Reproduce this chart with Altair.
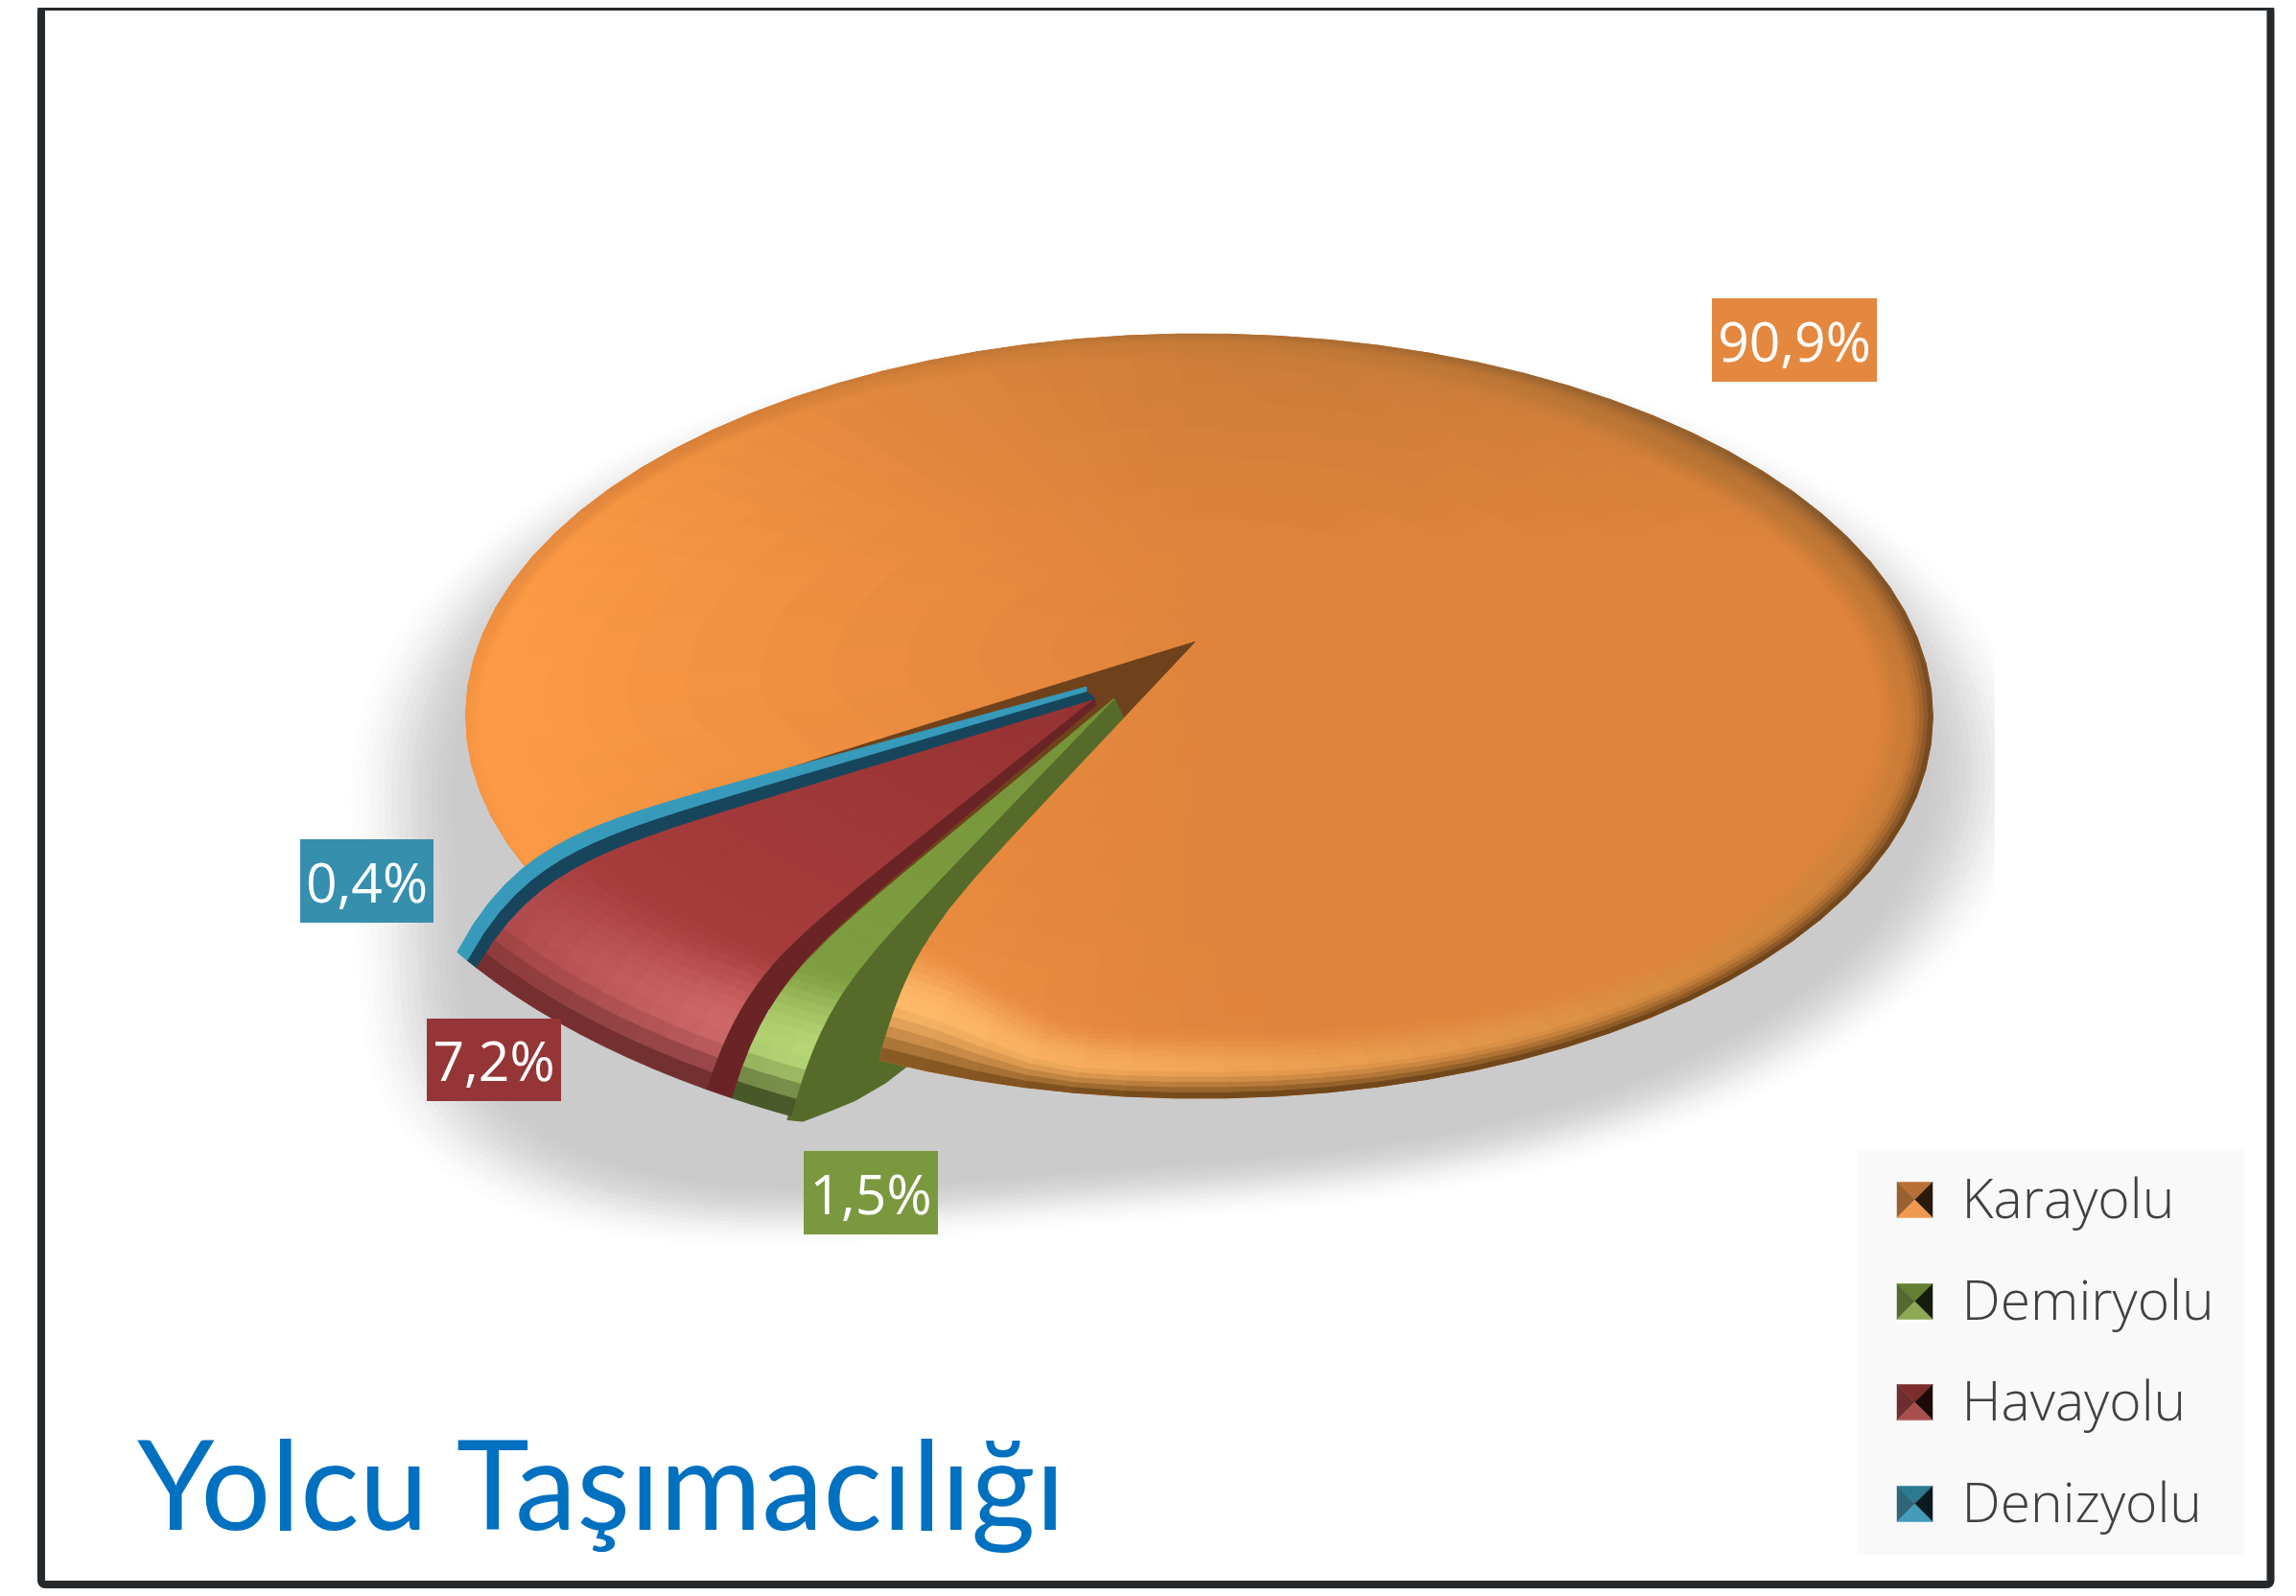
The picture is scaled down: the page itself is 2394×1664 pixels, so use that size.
import numpy as np
import pandas as pd
import altair as alt

alt.data_transformers.disable_max_rows()

# ---- chart values ----
categories = ["Karayolu", "Demiryolu", "Havayolu", "Denizyolu"]
shares = [90.9, 1.5, 7.2, 0.4]
title_text = "Yolcu Taşımacılığı"

# ---- geometry of the tilted pie (reference px = small * K) ----
K = 2394 / 1568
CX, CY, A, B = 819, 489, 501, 261
APEX = (818, 437)
EXPLODE_RHO = 1.185
START = 148.6
BOW = 56.0

cum = np.cumsum([0] + shares)
ang = START + cum * 3.6            # Karayolu starts at START; the rest follow clockwise
T_OR0, T_OR1 = ang[0], ang[1]
# the small slices are slightly stretched by perspective
warp = lambda d: float(np.interp(d % 360, [116.0, 121.4, 147.3, 148.6], [118.0, 122.7, 146.4, 148.6]))
T_G0, T_G1 = warp(ang[1]), warp(ang[2])
T_R1, T_B1 = warp(ang[3]), warp(ang[4])
T_R0 = T_G1 + 2.0
T_D1 = T_R1 + 1.1


def mix(c1, c2, f):
    c1 = np.asarray(c1, float); c2 = np.asarray(c2, float)
    return c1 + (c2 - c1) * f


def rgb(h):
    return np.array([int(h[i:i + 2], 16) for i in (1, 3, 5)], float)


def hexs(c):
    c = np.clip(np.round(c), 0, 255).astype(int)
    return "#%02x%02x%02x" % tuple(c)


def bowf(r):
    return r * (1 - r ** 10)


def gap_window(t, fade=40):
    t = t % 360
    d = max(116 - t, t - 148.6, 0)
    return float(np.cos(min(d, fade) / fade * np.pi / 2) ** 2)


def P(r, t, apex=APEX, rho=1.0, bow=None):
    th = np.radians(t)
    rx = CX + A * rho * np.cos(th)
    ry = CY + B * rho * np.sin(th)
    c = BOW * gap_window(t) if bow is None else bow
    return apex[0] + (rx - apex[0]) * r, apex[1] + (ry - apex[1]) * r - c * bowf(r)


rows = {}
_id = [0]


def poly(layer, pts, color, clampx=None):
    _id[0] += 1
    lst = rows.setdefault(layer, [])
    for i, (x, y) in enumerate(pts):
        if clampx is not None:
            x = min(x, clampx)
        lst.append(dict(id=_id[0], o=i, x=x * K, y=y * K, c=color))


def table(ts, hexes, t):
    cs = np.array([rgb(h) for h in hexes])
    return np.array([np.interp(t, ts, cs[:, i]) for i in range(3)])


def sstep(f):
    f = np.clip(f, 0, 1)
    return f * f * (3 - 2 * f)


U = list(np.linspace(0, 1, 15))


def profile(face, H, E, u, um=.6):
    if u < um:
        return mix(face, H, sstep(u / um))
    return mix(H, E, ((u - um) / (1 - um)) ** 1.6)


# ---- shadow ----
def shadow_pt(t, s):
    th = np.radians(t)
    bump = 1 + 0.29 * np.exp(-((t - 130) / 24.0) ** 2)
    return 815 + 515 * s * bump * np.cos(th), 527 + 268 * s * bump * np.sin(th)


for i, s in enumerate(np.linspace(1.12, 0.97, 18)):
    col = hexs(mix([255, 255, 255], [203, 203, 203], sstep((i + 1) / 18)))
    poly("shadow", [shadow_pt(t, s) for t in np.arange(0, 360, 3)], col, clampx=1362)

# ---- inner wall of the cut ----
rs_edge = np.linspace(0, 1, 30)
poly("brown", [P(r, 148.6) for r in rs_edge] + [P(r, 116) for r in rs_edge[::-1]], "#6f421c")

# ---- wall of the green slice, mostly hidden by the orange face ----
GA = (761, 477)
wall = [P(r, T_G0, GA, 1.196, BOW) for r in np.linspace(0, 1, 30)]
wall += [(CX + A * rh * np.cos(np.radians(t)), CY + B * rh * np.sin(np.radians(t)))
         for t, rh in [(117, 1.19), (116, 1.15), (115, 1.11), (114, 1.05), (113.5, 1.0), (113, .95)]]
wall += [(770, 495)]
poly("gwall", wall, "#566b29")


# ---- orange face ----
def face_color(x, y):
    nx = (x - 318) / 1002
    ny = (y - 228) / 522
    base = table([0, .08, .3, .5, 1], ["#fe9b48", "#f99743", "#ea8c3f", "#df843c", "#df843c"], nx)
    d = max(0, .3 - ny) / .3 * min(max(nx * 1.7, 0), 1) * .65
    base = mix(base, rgb("#bc7638"), d)
    low = max(0, (ny - .75) / .25) * max(0, 1 - nx * 1.8)
    return mix(base, rgb("#f6984c"), low)


HT = ([148.6, 180, 225, 270, 315, 360, 405, 450, 476],
      ["#fe9b48", "#f99743", "#de853c", "#c67b38", "#b87434", "#c97a36", "#d58a40", "#f2a555", "#ffba6a"])
ET = ([148.6, 180, 225, 270, 315, 360, 405, 450, 476],
      ["#f59546", "#f59546", "#d9813a", "#b07034", "#8c5c2c", "#6a4520", "#5f3a14", "#5e3b12", "#7a4c1a"])
WT = ([148.6, 180, 225, 270, 315, 360, 405, 450, 476],
      [.02, .02, .04, .08, .12, .08, .10, .16, .14])

ts = np.linspace(T_OR0, T_OR1, 83)
RL = [0, .1, .2, .3, .4, .5, .6, .7, .78, .84, .89, .93, .96, .98, 1]
for t0, t1 in zip(ts[:-1], ts[1:]):
    for a, b in zip(RL[:-1], RL[1:]):
        pts = [P(a, t0), P(b, t0), P(b, t1), P(a, t1)]
        xm = np.mean([p[0] for p in pts]); ym = np.mean([p[1] for p in pts])
        poly("orange", pts, hexs(face_color(xm, ym)))
# the rim bevel follows the true ellipse, bending only near the cut
for t0, t1 in zip(ts[:-1], ts[1:]):
    tm = (t0 + t1) / 2
    w0 = np.interp(t0, *WT); w1 = np.interp(t1, *WT); wm = np.interp(tm, *WT)
    H = table(*HT, tm); E = table(*ET, tm)
    b0 = BOW * gap_window(t0, 16); b1 = BOW * gap_window(t1, 16)
    fx, fy = P(1 - wm, tm, bow=0)
    face = face_color(fx, fy)
    for u0, u1 in zip(U[:-1], U[1:]):
        pts = [P(1 - w0 * (1 - u0), t0, bow=b0), P(1 - w0 * (1 - u1), t0, bow=b0),
               P(1 - w1 * (1 - u1), t1, bow=b1), P(1 - w1 * (1 - u0), t1, bow=b1)]
        poly("orange", pts, hexs(profile(face, H, E, (u0 + u1) / 2)))


# ---- exploded slices ----
def wedge(layer, t0, t1, a0, a1, rho, face, Hs, Es, wdt, n):
    tt = np.linspace(t0, t1, n + 1)
    ap = lambda t: tuple(mix(a0, a1, (t - t0) / (t1 - t0)))
    rl = list(np.linspace(0, 1 - wdt, 14))
    for ta, tb_ in zip(tt[:-1], tt[1:]):
        tm = (ta + tb_) / 2
        f = (tm - t0) / (t1 - t0)
        for j in range(len(rl) - 1):
            fc = mix(face[0], face[1], (rl[j] / (1 - wdt)))
            poly(layer, [P(rl[j], ta, ap(ta), rho, BOW), P(rl[j + 1], ta, ap(ta), rho, BOW),
                         P(rl[j + 1], tb_, ap(tb_), rho, BOW), P(rl[j], tb_, ap(tb_), rho, BOW)], hexs(fc))
        H = mix(Hs[0], Hs[1], f); E = mix(Es[0], Es[1], f)
        for u0, u1 in zip(U[:-1], U[1:]):
            r0 = 1 - wdt * (1 - u0); r1 = 1 - wdt * (1 - u1)
            poly(layer, [P(r0, ta, ap(ta), rho, BOW), P(r1, ta, ap(ta), rho, BOW),
                         P(r1, tb_, ap(tb_), rho, BOW), P(r0, tb_, ap(tb_), rho, BOW)],
                 hexs(profile(face[1], H, E, (u0 + u1) / 2, .72)))


def band(layer, t0, t1, a0, a1, rho, color, b0=BOW, b1=BOW):
    rs = np.linspace(0, 1, 40)
    tip = [(CX + A * rho * np.cos(np.radians(t)), CY + B * rho * np.sin(np.radians(t))) for t in np.linspace(t0, t1, 3)]
    poly(layer, [P(r, t0, a0, rho, b0) for r in rs] + tip + [P(r, t1, a1, rho, b1) for r in rs[::-1]], color)


wedge("gface", T_G0, T_G1, (761, 477), (761, 477), EXPLODE_RHO,
      (rgb("#75943a"), rgb("#7e9e40")), (rgb("#b8d877"), rgb("#b0d070")),
      (rgb("#2f3a16"), rgb("#2f3a16")), .2, 3)
band("rwall", T_G1, T_R0, (749, 481), (747, 477), EXPLODE_RHO, "#6b2426")
wedge("rface", T_R0, T_R1, (747, 477), (749, 475), EXPLODE_RHO,
      (rgb("#963334"), rgb("#a63c3c")), (rgb("#d0696b"), rgb("#b04a4c")),
      (rgb("#5b2222"), rgb("#6a2828")), .2, 10)
band("bdark", T_R1, T_D1, (748, 477), (742, 472), EXPLODE_RHO, "#17465c", BOW, BOW + 4)
band("blight", T_D1, T_B1, (742, 472), (742, 469), EXPLODE_RHO, "#379abb", BOW + 4, BOW + 8)

XS = dict(domain=[8, 2386], nice=False, zero=False)
YS = dict(domain=[1656, 8], nice=False, zero=False)
X = alt.X("x:Q", scale=alt.Scale(**XS), axis=None)
Y = alt.Y("y:Q", scale=alt.Scale(**YS), axis=None)
X2 = alt.X2("x2:Q")
Y2 = alt.Y2("y2:Q")


def shape_layer(name, sw=1.0):
    df = pd.DataFrame(rows[name])
    return alt.Chart(df).mark_line(interpolate="linear-closed", strokeWidth=sw, strokeJoin="round").encode(
        x=X, y=Y, detail="id:N", order="o:Q",
        fill=alt.Fill("c:N", scale=None), stroke=alt.Stroke("c:N", scale=None))


layers = [shape_layer(n) for n in ["shadow", "brown", "gwall", "orange", "gface", "rwall", "rface", "bdark", "blight"]]

# ---- data labels ----
lab_box = [(1785, 1957, 311, 398, "#e4883f"), (838, 978, 1200, 1287, "#7a983e"),
           (445, 585, 1062, 1148, "#963537"), (313, 452, 875, 962, "#368fad")]
lab_df = pd.DataFrame([dict(x=b[0], x2=b[1], y=b[2], y2=b[3], c=b[4], cx=(b[0] + b[1]) / 2,
                            by=(b[2] + b[3]) / 2 + 22, t=f"{v:.1f}%".replace(".", ","))
                       for b, v in zip(lab_box, shares)])
layers.append(alt.Chart(lab_df).mark_rect().encode(x=X, x2=X2, y=Y, y2=Y2, color=alt.Color("c:N", scale=None)))
layers.append(alt.Chart(lab_df).mark_text(font="Open Sans", fontSize=57, color="white", baseline="alphabetic", align="center").encode(
    x=alt.X("cx:Q", scale=alt.Scale(**XS), axis=None), y=alt.Y("by:Q", scale=alt.Scale(**YS), axis=None), text="t:N"))

# ---- legend ----
leg_bg = pd.DataFrame([dict(x=1937, x2=2340, y=1199, y2=1621)])
layers.append(alt.Chart(leg_bg).mark_rect(color="#f9f9f9").encode(x=X, x2=X2, y=Y, y2=Y2))
leg_rows = [1251, 1357, 1462, 1568]
swatch_colors = [("#b87034", "#96602f", "#2a1a0c", "#f09850"), ("#647f32", "#54682f", "#161c0b", "#8ca855"),
                 ("#7c2d2b", "#6c2e2e", "#1c0a09", "#a94f4e"), ("#2b7a92", "#2e6577", "#0a1a20", "#439bb9")]
sw_rows = []
n = 0
for yc, cols in zip(leg_rows, swatch_colors):
    xc, h = 1996.5, 18.5
    corners = [(xc - h, yc - h), (xc + h, yc - h), (xc + h, yc + h), (xc - h, yc + h)]
    tri = [(corners[0], corners[1]), (corners[3], corners[0]), (corners[1], corners[2]), (corners[2], corners[3])]
    for (p, q), c in zip(tri, cols):
        n += 1
        for i, pt in enumerate([p, q, (xc, yc)]):
            sw_rows.append(dict(id=n, o=i, x=pt[0], y=pt[1], c=c))
layers.append(alt.Chart(pd.DataFrame(sw_rows)).mark_line(interpolate="linear-closed", strokeWidth=.5).encode(
    x=X, y=Y, detail="id:N", order="o:Q", fill=alt.Fill("c:N", scale=None), stroke=alt.Stroke("c:N", scale=None)))
leg_txt = pd.DataFrame(dict(x=[2045.5] * 4, y=[r + 19 for r in leg_rows], t=categories))
layers.append(alt.Chart(leg_txt).mark_text(font="Open Sans", fontSize=57, fontWeight=300, color="#404040",
                                            baseline="alphabetic", align="left").encode(x=X, y=Y, text="t:N"))

# ---- title ----
ttl = pd.DataFrame([dict(x=143, y=1595, t=title_text)])
layers.append(alt.Chart(ttl).mark_text(font="Lato", fontSize=129, color="#0070c0",
                                        baseline="alphabetic", align="left").encode(x=X, y=Y, text="t:N"))

# ---- frame ----
frame = pd.DataFrame([dict(x=43, x2=2367.5, y=7, y2=1652)])
layers.append(alt.Chart(frame).mark_rect(fillOpacity=0, stroke="#25292c", strokeWidth=8, cornerRadius=4).encode(
    x=X, x2=X2, y=Y, y2=Y2))

chart = alt.layer(*layers).properties(width=2378, height=1648, padding=0, background="white",
                                       autosize=alt.AutoSizeParams(type="none")).configure_view(stroke=None)
chart.save("out.html", embed_options={"renderer": "svg", "actions": False})
